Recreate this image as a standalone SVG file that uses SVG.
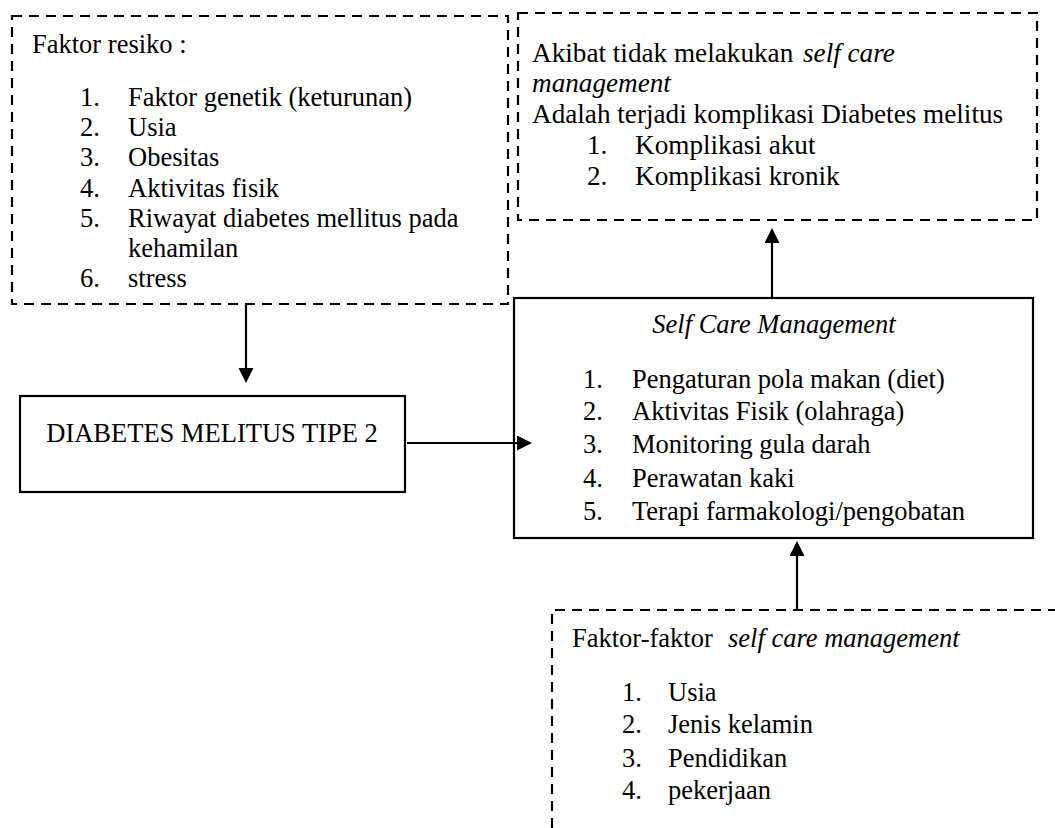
<svg xmlns="http://www.w3.org/2000/svg" width="1055" height="828" viewBox="0 0 1055 828">
<defs>
<style>
text{font-family:"Liberation Serif","Times New Roman",serif;font-size:26.5px;fill:#000}
.it{font-style:italic}
.big text{font-size:27.2px}
.dash{fill:none;stroke:#000;stroke-width:2.2;stroke-dasharray:10 7}
.solid{fill:#fff;stroke:#000;stroke-width:2.2}
.conn{stroke:#000;stroke-width:2.2;fill:none}
</style>
<marker id="arr" markerUnits="userSpaceOnUse" markerWidth="16" markerHeight="16" refX="5" refY="7.5" orient="auto">
<path d="M0,0 L15,7.5 L0,15 Z" fill="#000"/>
</marker>
</defs>
<rect width="1055" height="828" fill="#fff"/>

<g id="faktor-resiko">
<rect class="dash" x="12" y="16" width="496" height="288"/>
<text x="32" y="53">Faktor resiko :</text>
<text x="80" y="106">1.</text><text x="128" y="106">Faktor genetik (keturunan)</text>
<text x="80" y="136">2.</text><text x="128" y="136">Usia</text>
<text x="80" y="166">3.</text><text x="128" y="166">Obesitas</text>
<text x="80" y="197">4.</text><text x="128" y="197">Aktivitas fisik</text>
<text x="80" y="227">5.</text><text x="128" y="227">Riwayat diabetes mellitus pada</text>
<text x="128" y="257">kehamilan</text>
<text x="80" y="287">6.</text><text x="128" y="287">stress</text>
</g>

<g id="akibat" class="big">
<rect class="dash" x="518" y="13" width="519" height="207"/>
<text x="532" y="62">Akibat tidak melakukan <tspan class="it" x="803">self care</tspan></text>
<text class="it" x="532" y="92">management</text>
<text x="532" y="123">Adalah terjadi komplikasi Diabetes melitus</text>
<text x="587" y="154">1.</text><text x="635" y="154">Komplikasi akut</text>
<text x="587" y="185">2.</text><text x="635" y="185">Komplikasi kronik</text>
</g>

<g id="dm">
<rect class="solid" x="20" y="396" width="385" height="96"/>
<text x="212" y="442" text-anchor="middle">DIABETES MELITUS TIPE 2</text>
</g>

<g id="scm">
<rect class="solid" x="514" y="298" width="519" height="240"/>
<text class="it" x="774" y="333" text-anchor="middle">Self Care Management</text>
<text x="583" y="388">1.</text><text x="632" y="388">Pengaturan pola makan (diet)</text>
<text x="583" y="420">2.</text><text x="632" y="420">Aktivitas Fisik (olahraga)</text>
<text x="583" y="453">3.</text><text x="632" y="453">Monitoring gula darah</text>
<text x="583" y="487">4.</text><text x="632" y="487">Perawatan kaki</text>
<text x="583" y="520">5.</text><text x="632" y="520">Terapi farmakologi/pengobatan</text>
</g>

<g id="faktor-scm">
<path class="dash" d="M552,828 V610 H1055"/>
<text x="572" y="647">Faktor-faktor <tspan class="it" x="728">self care management</tspan></text>
<text x="622" y="701">1.</text><text x="668" y="701">Usia</text>
<text x="622" y="733">2.</text><text x="668" y="733">Jenis kelamin</text>
<text x="622" y="767">3.</text><text x="668" y="767">Pendidikan</text>
<text x="622" y="799">4.</text><text x="668" y="799">pekerjaan</text>
</g>

<g id="connectors">
<line class="conn" x1="246" y1="304" x2="246" y2="373" marker-end="url(#arr)"/>
<line class="conn" x1="407" y1="443" x2="522" y2="443" marker-end="url(#arr)"/>
<line class="conn" x1="772" y1="298" x2="772" y2="238" marker-end="url(#arr)"/>
<line class="conn" x1="797" y1="610" x2="797" y2="551" marker-end="url(#arr)"/>
</g>
</svg>
